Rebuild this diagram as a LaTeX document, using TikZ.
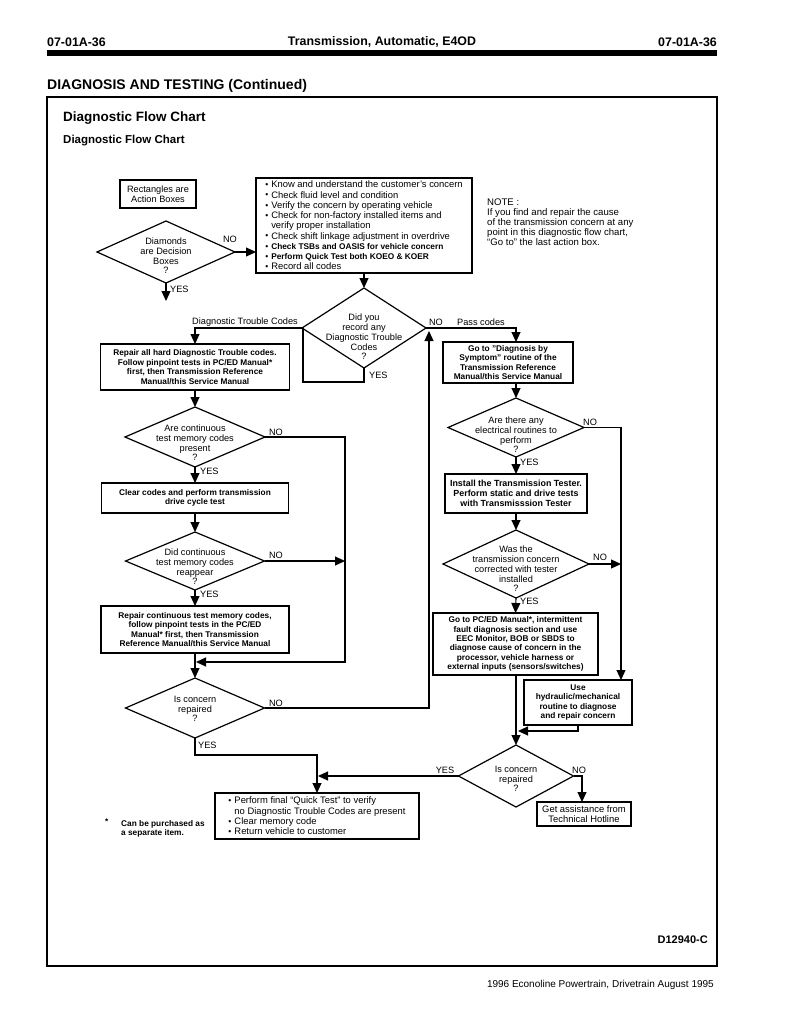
\documentclass[tikz,border=0pt]{standalone}
\usepackage{fontspec}
\setmainfont{Liberation Sans}
\usetikzlibrary{arrows.meta,shapes.geometric,calc}
\newcommand{\rf}{\fontsize{9.2}{9.7}\selectfont}
\newcommand{\rfb}{\fontsize{9.4}{10.25}\selectfont}
\newcommand{\bxf}{\fontsize{8.3}{9.5}\selectfont\bfseries}
\newcommand{\hdf}{\fontsize{12.4}{14}\selectfont\bfseries}
\newcommand{\bul}{\makebox[6pt][l]{\raisebox{0.3pt}{\fontsize{8.5}{8.5}\selectfont\textbullet}}}
\newcommand{\ind}{\hspace*{6pt}}
\begin{document}
\begin{tikzpicture}[x=1pt,y=-1pt,
  ln/.style={line width=1.1pt},
  arr/.style={line width=1.1pt,-{Triangle[length=10pt,width=9pt]}},
  abox/.style={draw,line width=1.2pt,inner sep=0pt,outer sep=0pt,align=center,font=\bxf},
  dbox/.style={draw,diamond,line width=1.2pt,inner sep=0pt,outer sep=0pt},
  dtxt/.style={align=center,font=\rf,inner sep=0pt},
  lbl/.style={font=\rf,inner sep=0pt}]
\useasboundingbox (0,0) rectangle (791,1024);
\fill[white] (0,0) rectangle (791,1024);

% header
\node[anchor=west,font=\hdf,inner sep=0pt] (h1) at (47,42) {07-01A-36};
\node[font=\hdf,inner sep=0pt] (h2) at (382,42) {Transmission, Automatic, E4OD};
\node[anchor=east,font=\hdf,inner sep=0pt] (h3) at (717,42) {07-01A-36};
\fill (47,50.5) rectangle (717,56.5);
\node[anchor=west,font=\fontsize{14}{16}\selectfont\bfseries,inner sep=0pt] (t1) at (47,86) {DIAGNOSIS AND TESTING (Continued)};
\draw[line width=1.4pt] (47,97) rectangle (717,966);
\node[anchor=west,font=\fontsize{13.5}{15}\selectfont\bfseries,inner sep=0pt] (t2) at (63,118) {Diagnostic Flow Chart};
\node[anchor=west,font=\fontsize{11.5}{13}\selectfont\bfseries,inner sep=0pt] (t3) at (63,141) {Diagnostic Flow Chart};

% legend
\node[abox,font=\rf,minimum width=76,minimum height=28] (leg) at (158,194) {Rectangles are\\Action Boxes};
\node[dbox,minimum width=138,minimum height=62] (legd) at (166,252) {};
\node[dtxt] (legdt) at (166,256) {Diamonds\\are Decision\\Boxes\\?};
\coordinate (legy) at (166,301);
\draw[arr] (legd.south) -- (legy);
\node[lbl,anchor=west] (legyes) at (170,289) {YES};

% top box
\node[draw,line width=1.2pt,inner sep=0pt,outer sep=0pt,minimum width=216,minimum height=95,align=left,font=\rfb] (top) at (364,225.5) {%
\bul Know and understand the customer's concern\\
\bul Check fluid level and condition\\
\bul Verify the concern by operating vehicle\\
\bul Check for non-factory installed items and\\
\ind verify proper installation\\
\bul Check shift linkage adjustment in overdrive\\
\bul{\bxf Check TSBs and OASIS for vehicle concern}\\
\bul{\bxf Perform Quick Test both KOEO \& KOER}\\
\bul Record all codes};
\draw[arr] (legd.east) -- (top.west |- legd.east);
\node[lbl] (legno) at (230,239) {NO};

% note
\node[anchor=north west,align=left,font=\fontsize{9.6}{10}\selectfont,inner sep=0pt] (note) at (487,199) {NOTE :\\If you find and repair the cause\\of the transmission concern at any\\point in this diagnostic flow chart,\\``Go to'' the last action box.};

% central decision
\node[dbox,minimum width=124,minimum height=80] (d1) at (364,328) {};
\node[dtxt] (d1t) at (364,337) {Did you\\record any\\Diagnostic Trouble\\Codes\\?};
\draw[arr] (top.south) -- (d1.north);

% left column
\node[abox,minimum width=189,minimum height=46] (L1) at (195,367) {Repair all hard Diagnostic Trouble codes.\\Follow pinpoint tests in PC/ED Manual*\\first, then Transmission Reference\\Manual/this Service Manual};
\node[dbox,minimum width=140,minimum height=60] (L2) at (195,437) {};
\node[dtxt] (L2t) at (195,443) {Are continuous\\test memory codes\\present\\?};
\node[abox,minimum width=187,minimum height=30] (L3) at (195,498) {Clear codes and perform transmission\\drive cycle test};
\node[dbox,minimum width=139,minimum height=58] (L4) at (195,561) {};
\node[dtxt] (L4t) at (195,567) {Did continuous\\test memory codes\\reappear\\?};
\node[abox,minimum width=188,minimum height=47] (L5) at (195,629.5) {Repair continuous test memory codes,\\follow pinpoint tests in the PC/ED\\Manual* first, then Transmission\\Reference Manual/this Service Manual};
\node[dbox,minimum width=139,minimum height=60] (L6) at (195,708) {};
\node[dtxt] (L6t) at (195,709) {Is concern\\repaired\\?};

% right column
\node[abox,minimum width=130,minimum height=41] (R1) at (508,362.5) {Go to "Diagnosis by\\Symptom" routine of the\\Transmission Reference\\Manual/this Service Manual};
\node[dbox,minimum width=136,minimum height=59] (R2) at (516,427.5) {};
\node[dtxt] (R2t) at (516,435) {Are there any\\electrical routines to\\perform\\?};
\node[abox,font=\fontsize{8.9}{10}\selectfont\bfseries,minimum width=142,minimum height=39] (R3) at (516,493.5) {Install the Transmission Tester.\\Perform static and drive tests\\with Transmisssion Tester};
\node[dbox,minimum width=146,minimum height=68] (R4) at (516,564) {};
\node[dtxt] (R4t) at (516,569) {Was the\\transmission concern\\corrected with tester\\installed\\?};
\node[abox,font=\fontsize{8.3}{9.3}\selectfont\bfseries,minimum width=165,minimum height=62] (R5) at (515.5,644) {Go to PC/ED Manual*, intermittent\\fault diagnosis section and use\\EEC Monitor, BOB or SBDS to\\diagnose cause of concern in the\\processor, vehicle harness or\\external inputs (sensors/switches)};
\node[abox,minimum width=108,minimum height=45] (R6) at (578,702.5) {Use\\hydraulic/mechanical\\routine to diagnose\\and repair concern};
\node[dbox,minimum width=115,minimum height=62] (R7) at (516,776) {};
\node[dtxt] (R7t) at (516,779) {Is concern\\repaired\\?};
\node[draw,line width=1.2pt,inner sep=0pt,outer sep=0pt,align=center,font=\rfb,minimum width=94,minimum height=24] (R8) at (584,814) {Get assistance from\\Technical Hotline};

% final box
\node[draw,line width=1.2pt,inner sep=0pt,outer sep=0pt,minimum width=204,minimum height=46,align=left,font=\rfb] (F) at (317,816) {%
\bul Perform final ``Quick Test'' to verify\\
\ind no Diagnostic Trouble Codes are present\\
\bul Clear memory code\\
\bul Return vehicle to customer};

% footnote
\node[anchor=west,font=\bxf,inner sep=0pt] (star) at (105,822) {*};
\node[anchor=north west,align=left,font=\bxf,inner sep=0pt] (fn) at (121,820) {Can be purchased as\\a separate item.};

% id and footer
\node[anchor=east,font=\fontsize{11}{13}\selectfont\bfseries,inner sep=0pt] (id) at (708,940) {D12940-C};
\node[anchor=east,font=\fontsize{10}{12}\selectfont,inner sep=0pt] (foot) at (714,985) {1996 Econoline Powertrain, Drivetrain August 1995};

% coordinates
\coordinate (jDTC) at (195,328);
\coordinate (jYa) at (364,382);
\coordinate (jYb) at (303,382);
\coordinate (jYc) at (303,328);
\coordinate (jPass) at (516,328);
\coordinate (R1in) at (516,342);
\coordinate (R1out) at (516,383);
\coordinate (jNa) at (345,437);
\coordinate (jNb) at (345,662);
\coordinate (jNc) at (196,662);
\coordinate (jN4) at (345,561);
\coordinate (jUa) at (429,708);
\coordinate (jUb) at (429,331);
\coordinate (jYL) at (195,755);
\coordinate (jYLb) at (317,755);
\coordinate (jR2a) at (621,427.5);
\coordinate (jR6in) at (621,680);
\coordinate (jR4) at (621,564);
\coordinate (jR6a) at (578,731);
\coordinate (jR6b) at (518,731);
\coordinate (jR7y) at (318,776);
\coordinate (jR7n) at (582,776);
\coordinate (R8in) at (582,802);

% connectors central
\draw[arr] (d1.west) -- (jDTC) -- (L1.north);
\draw[ln] (d1.south) -- (jYa) -- (jYb) -- (jYc);
\draw[arr] (d1.east) -- (jPass) -- (R1in);
\node[lbl] (lDTC) at (245,322) {Diagnostic Trouble Codes};
\node[lbl,anchor=west] (ld1y) at (369,375) {YES};
\node[lbl] (ld1n) at (436,322) {NO};
\node[lbl] (lpass) at (481,322) {Pass codes};

% connectors left
\draw[arr] (L1.south) -- (L2.north);
\draw[arr] (L2.south) -- (L3.north);
\node[lbl,anchor=west] (lL2y) at (200,471) {YES};
\draw[arr] (L2.east) -- (jNa) -- (jNb) -- (jNc);
\node[lbl] (lL2n) at (276,432) {NO};
\draw[arr] (L3.south) -- (L4.north);
\draw[arr] (L4.east) -- (jN4);
\node[lbl] (lL4n) at (276,555) {NO};
\draw[arr] (L4.south) -- (L5.north);
\node[lbl,anchor=west] (lL4y) at (200,594) {YES};
\draw[arr] (L5.south) -- (L6.north);
\draw[arr] (L6.east) -- (jUa) -- (jUb);
\node[lbl] (lL6n) at (276,703) {NO};
\draw[arr] (L6.south) -- (jYL) -- (jYLb) -- (F.north -| jYLb);
\node[lbl,anchor=west] (lL6y) at (198,745) {YES};

% connectors right
\draw[arr] (R1out) -- (R2.north);
\draw[arr] (R2.south) -- (R3.north);
\node[lbl,anchor=west] (lR2y) at (520,462) {YES};
\draw[arr] (R2.east) -- (jR2a) -- (jR6in);
\node[lbl] (lR2n) at (590,422) {NO};
\draw[arr] (R3.south) -- (R4.north);
\draw[arr] (R4.east) -- (jR4);
\node[lbl] (lR4n) at (600,557) {NO};
\draw[arr] (R4.south) -- (R5.south |- R5.north);
\node[lbl,anchor=west] (lR4y) at (520,601) {YES};
\draw[arr] (R5.south -| R7.north) -- (R7.north);
\draw[arr] (R6.south) -- (jR6a) -- (jR6b);
\draw[arr] (R7.west) -- (jR7y);
\node[lbl] (lR7y) at (445,770) {YES};
\draw[arr] (R7.east) -- (jR7n) -- (R8in);
\node[lbl] (lR7n) at (579,770) {NO};
\end{tikzpicture}
\end{document}
